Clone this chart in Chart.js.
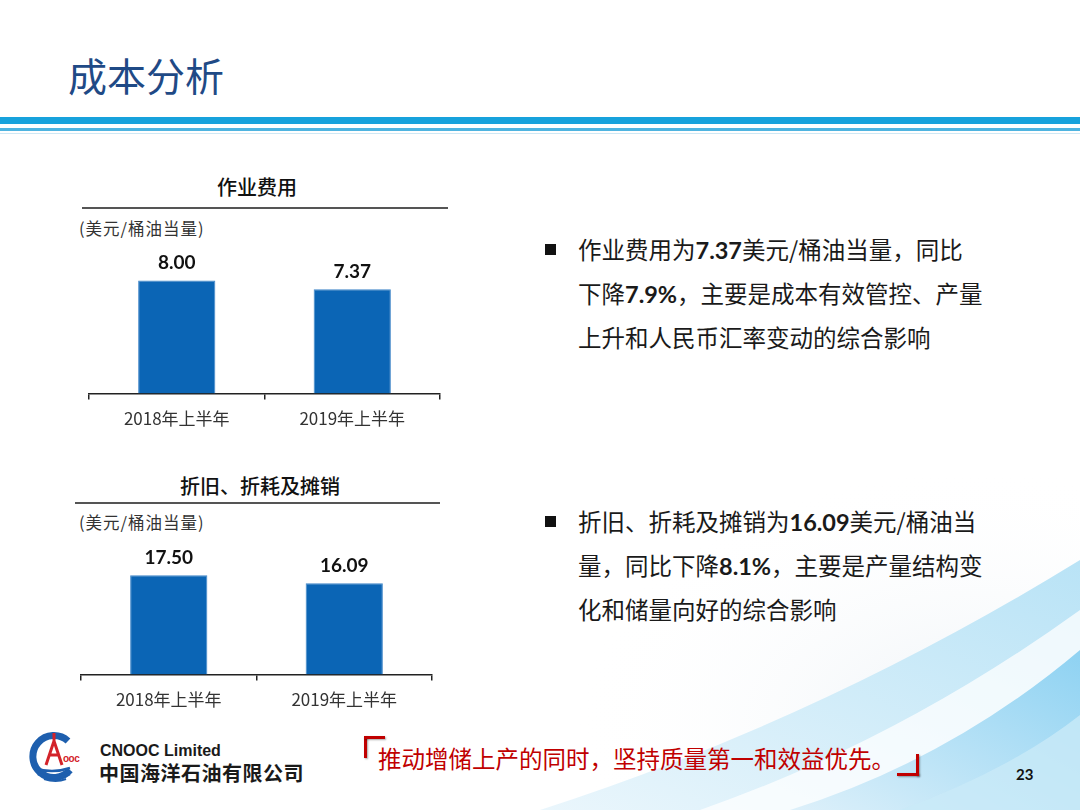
<!DOCTYPE html>
<html>
<head>
<meta charset="utf-8">
<script src="https://cdn.jsdelivr.net/npm/chart.js@4/dist/chart.umd.min.js"></script>
<style>
  html, body { margin: 0; padding: 0; }
  body { width: 1080px; height: 810px; position: relative; overflow: hidden; background: #fff;
         font-family: "Noto Sans CJK SC", "Noto Sans", sans-serif; }
  .abs { position: absolute; white-space: nowrap; }
  #bg { position: absolute; left: 0; top: 0; }
  .title { left: 68px; top: 48px; font-size: 39px; color: #1F4A86; line-height: 52px; }
  .band1 { left: 0; top: 117px; width: 1080px; height: 7px; background: #17A2DC; }
  .band2 { left: 0; top: 128px; width: 1080px; height: 3px; background: #4FB4E0; }
  .band3 { left: 0; top: 133px; width: 1080px; height: 1px; background: #CFE8F5; }
  .ctitle { font-size: 20px; color: #111; font-weight: 500; transform: translateX(-50%); line-height: 26px; }
  .rule { height: 2px; background: #555; }
  .unit { font-size: 16.5px; color: #333; line-height: 22px; letter-spacing: 1px; }
  .para { left: 545px; font-size: 23.5px; color: #1a1a1a; line-height: 43px; }
  .para b { font-family: "Lato", "Noto Sans CJK SC", sans-serif; font-weight: 700; }
  .bullet { display: inline-block; width: 11px; height: 11px; background: #111; margin-right: 22px; vertical-align: 4px; }
  .indent { padding-left: 33px; }
  .quote { left: 378px; top: 742px; font-size: 23.5px; color: #C00000; line-height: 32px; }
  .br { background: #C00000; box-shadow: 1px 1px 2px rgba(0,0,0,0.35); }
  .cn1 { left: 100px; top: 742px; font-family: "Liberation Sans", Arial, sans-serif; font-weight: 700; font-size: 16px; color: #1a1a1a; }
  .cn2 { left: 99px; top: 758px; font-weight: 700; font-size: 20px; color: #1a1a1a; letter-spacing: 0.5px; }
  .page { left: 1016px; top: 765px; font-family: "Lato", sans-serif; font-weight: 700; font-size: 15px; color: #111; }
  canvas.chart { position: absolute; }
</style>
</head>
<body>
<svg id="bg" width="1080" height="810" viewBox="0 0 1080 810">
  <defs>
    <linearGradient id="sw1" x1="0" y1="1" x2="1" y2="0">
      <stop offset="0" stop-color="#DDF0FA"/>
      <stop offset="1" stop-color="#8ED2F2"/>
    </linearGradient>
    <linearGradient id="sw2" x1="0" y1="1" x2="1" y2="0">
      <stop offset="0" stop-color="#EAF6FC"/>
      <stop offset="1" stop-color="#B9E3F6"/>
    </linearGradient>
    <radialGradient id="haze" cx="0.85" cy="0.8" r="0.6">
      <stop offset="0" stop-color="#EEF3F7"/>
      <stop offset="1" stop-color="#FFFFFF" stop-opacity="0"/>
    </radialGradient>
  </defs>
  <rect x="400" y="380" width="680" height="430" fill="url(#haze)"/>
  <path d="M540 810 Q820 720 1080 560 L1080 810 Z" fill="url(#sw2)"/>
  <path d="M700 810 Q900 740 1080 610 L1080 810 Z" fill="#FFFFFF" opacity="0.75"/>
  <path d="M790 810 Q950 760 1080 650 L1080 810 Z" fill="url(#sw1)"/>
  <path d="M900 810 Q1010 770 1080 715 L1080 810 Z" fill="#C9EAF8" opacity="0.8"/>
  <!-- logo -->
  <g>
    <path d="M68 741 A21 21 0 1 0 70 770" fill="none" stroke="#1E5FAE" stroke-width="7"/>
    <path d="M34 768 Q52 774 70 768" fill="none" stroke="#1E5FAE" stroke-width="2.5"/>
    <path d="M38 774 Q54 780 70 774" fill="none" stroke="#1E5FAE" stroke-width="2.5"/>
    <path d="M44 779 Q56 783 66 779" fill="none" stroke="#1E5FAE" stroke-width="2"/>
    <path d="M54 733 L54 741 M46 765 L54 741 L62 765 M50 755 L58 755" fill="none" stroke="#D3232A" stroke-width="3"/>
    <text x="63" y="762" font-family="Liberation Sans" font-weight="700" font-size="10" fill="#D3232A" letter-spacing="-0.5">ooc</text>
  </g>
</svg>

<div class="abs title">成本分析</div>
<div class="abs band1"></div>
<div class="abs band2"></div>
<div class="abs band3"></div>

<div class="abs ctitle" style="left:257px; top:174px;">作业费用</div>
<div class="abs rule" style="left:82px; top:207px; width:366px;"></div>
<div class="abs unit" style="left:79px; top:217px;">(美元/桶油当量)</div>
<canvas id="opexChart" class="chart"></canvas>

<div class="abs ctitle" style="left:260px; top:473px;">折旧、折耗及摊销</div>
<div class="abs rule" style="left:75px; top:502px; width:365px;"></div>
<div class="abs unit" style="left:79px; top:511px;">(美元/桶油当量)</div>
<canvas id="ddaChart" class="chart"></canvas>

<div class="abs para" style="top:228px;">
  <span class="bullet"></span>作业费用为<b>7.37</b>美元/桶油当量，同比<br>
  <span class="indent">下降<b>7.9%</b>，主要是成本有效管控、产量</span><br>
  <span class="indent">上升和人民币汇率变动的综合影响</span>
</div>
<div class="abs para" style="top:500px;">
  <span class="bullet"></span>折旧、折耗及摊销为<b>16.09</b>美元/桶油当<br>
  <span class="indent">量，同比下降<b>8.1%</b>，主要是产量结构变</span><br>
  <span class="indent">化和储量向好的综合影响</span>
</div>

<div class="abs br" style="left:364px; top:736px; width:3px; height:22px;"></div>
<div class="abs br" style="left:364px; top:736px; width:21px; height:3px;"></div>
<div class="abs quote">推动增储上产的同时，坚持质量第一和效益优先。</div>
<div class="abs br" style="left:916px; top:754px; width:3px; height:22px;"></div>
<div class="abs br" style="left:897px; top:773px; width:22px; height:3px;"></div>

<div class="abs cn1">CNOOC Limited</div>
<div class="abs cn2">中国海洋石油有限公司</div>
<div class="abs page">23</div>

<script>
// 数据
const periods = ['2018年上半年', '2019年上半年'];
const opexValues = [8.00, 7.37];     // 作业费用
const ddaValues = [17.50, 16.09];    // 折旧、折耗及摊销

const barColor = '#0B65B5';

// 柱顶数值
const valueLabels = {
	id: 'valueLabels',
	afterDatasetsDraw(chart) {
		const ctx = chart.ctx;
		const meta = chart.getDatasetMeta(0);
		ctx.save();
		ctx.font = '700 19px Lato, "Noto Sans", sans-serif';
		ctx.fillStyle = '#111';
		ctx.textAlign = 'center';
		ctx.textBaseline = 'bottom';
		meta.data.forEach((bar, i) => {
			ctx.fillText(chart.data.datasets[0].data[i].toFixed(2), bar.x, bar.y - 8);
		});
		ctx.restore();
	}
};

function makeChart(id, pos, values, yMax) {
	let cv = document.getElementById(id);
	cv.style.left = pos.left + 'px';
	cv.style.top = pos.top + 'px';
	cv.style.width = pos.width + 'px';
	cv.style.height = pos.height + 'px';
	cv.width = pos.width;
	cv.height = pos.height;
	return new Chart(cv.getContext('2d'), {
		type: 'bar',
		data: {
			labels: periods,
			datasets: [{
				data: values,
				backgroundColor: barColor,
				borderColor: '#3F86C8',
				borderWidth: 1,
				barPercentage: 0.44,
				categoryPercentage: 1
			}]
		},
		options: {
			responsive: false,
			animation: false,
			layout: { padding: { left: 10, right: 10, top: 5, bottom: 0 } },
			plugins: { legend: { display: false }, tooltip: { enabled: false } },
			scales: {
				x: {
					border: { display: true, color: '#222', width: 1.5 },
					grid: { display: true, drawOnChartArea: false, drawTicks: true, tickLength: 6, color: '#222', lineWidth: 1.5, offset: true },
					ticks: { color: '#333', font: { family: '"Noto Sans CJK SC", sans-serif', size: 17 }, padding: 9 }
				},
				y: { display: false, min: 0, max: yMax }
			}
		},
		plugins: [valueLabels]
	});
}

makeChart('opexChart', { left: 79, top: 240, width: 371, height: 198 }, opexValues, 10.5);
makeChart('ddaChart', { left: 71, top: 535, width: 371, height: 184 }, ddaValues, 23.7);
</script>
</body>
</html>
